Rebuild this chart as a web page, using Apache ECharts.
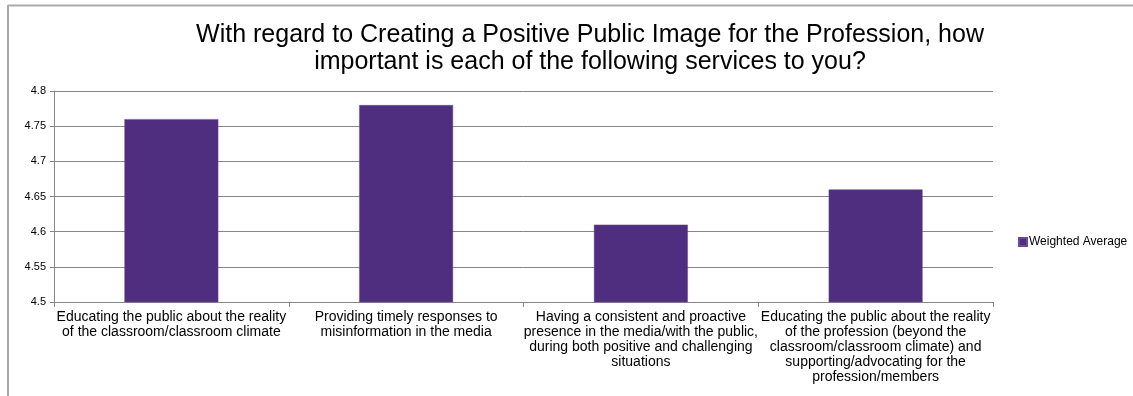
<!DOCTYPE html>
<html>
<head>
<meta charset="utf-8">
<script src="https://cdn.jsdelivr.net/npm/echarts@6/dist/echarts.min.js"></script>
<style>
  html, body { margin: 0; padding: 0; background: #fff; }
  #chart { width: 1133px; height: 396px; }
</style>
</head>
<body>
<div id="chart"></div>
<script>
// Survey services (category labels, pre-wrapped as shown under the axis)
const categories = [
  'Educating the public about the reality\nof the classroom/classroom climate',
  'Providing timely responses to\nmisinformation in the media',
  'Having a consistent and proactive\npresence in the media/with the public,\nduring both positive and challenging\nsituations',
  'Educating the public about the reality\nof the profession (beyond the\nclassroom/classroom climate) and\nsupporting/advocating for the\nprofession/members'
];
const seriesName = 'Weighted Average';
const weightedAverage = [4.76, 4.78, 4.61, 4.66];
const yTicks = { min: 4.5, max: 4.8, step: 0.05 };

const chart = echarts.init(document.getElementById('chart'), null, { renderer: 'canvas' });

const font = 'Liberation Sans, Arial, sans-serif';

chart.setOption({
  animation: false,
  backgroundColor: '#ffffff',
  title: {
    text: 'With regard to Creating a Positive Public Image for the Profession, how\nimportant is each of the following services to you?',
    left: 585,
    top: 17,
    textAlign: 'center',
    textStyle: {
      fontFamily: font,
      fontSize: 25,
      fontWeight: 'normal',
      color: '#000000',
      lineHeight: 27
    }
  },
  legend: {
    left: 1013,
    top: 231,
    itemWidth: 8,
    itemHeight: 8,
    itemGap: 4,
    icon: 'rect',
    textStyle: { fontFamily: font, fontSize: 12, color: '#000000', padding: [0, 0, 0, -3] },
    data: [seriesName]
  },
  grid: { left: 54, right: 140, top: 91, bottom: 94, containLabel: false },
  xAxis: {
    type: 'category',
    data: categories,
    axisLine: { lineStyle: { color: '#868686', width: 1 } },
    axisTick: { show: true, alignWithLabel: false, length: 5, lineStyle: { color: '#868686' } },
    axisLabel: {
      interval: 0,
      margin: 8,
      fontFamily: font,
      fontSize: 14,
      lineHeight: 15,
      color: '#000000',
      align: 'center'
    }
  },
  yAxis: {
    type: 'value',
    min: yTicks.min,
    max: yTicks.max,
    interval: yTicks.step,
    axisLine: { show: true, lineStyle: { color: '#868686', width: 1 } },
    axisTick: { show: true, length: 4, lineStyle: { color: '#868686' } },
    splitLine: { show: true, lineStyle: { color: '#868686', width: 1 } },
    axisLabel: {
      fontFamily: font,
      fontSize: 11,
      color: '#000000',
      margin: 8,
      formatter: v => String(parseFloat(v.toFixed(2)))
    }
  },
  series: [{
    name: seriesName,
    type: 'bar',
    data: weightedAverage,
    barCategoryGap: '60%',
    itemStyle: { color: '#4f2d7f', borderColor: '#6a4c96', borderWidth: 0.5 }
  }],
  graphic: [
    // outer frame (top and left edges)
    { type: 'line', shape: { x1: 8, y1: 5.5, x2: 1133, y2: 5.5 }, style: { stroke: '#ababab', lineWidth: 2 }, silent: true },
    { type: 'line', shape: { x1: 8, y1: 5, x2: 8, y2: 396 }, style: { stroke: '#ababab', lineWidth: 2 }, silent: true }
  ]
});
</script>
</body>
</html>
